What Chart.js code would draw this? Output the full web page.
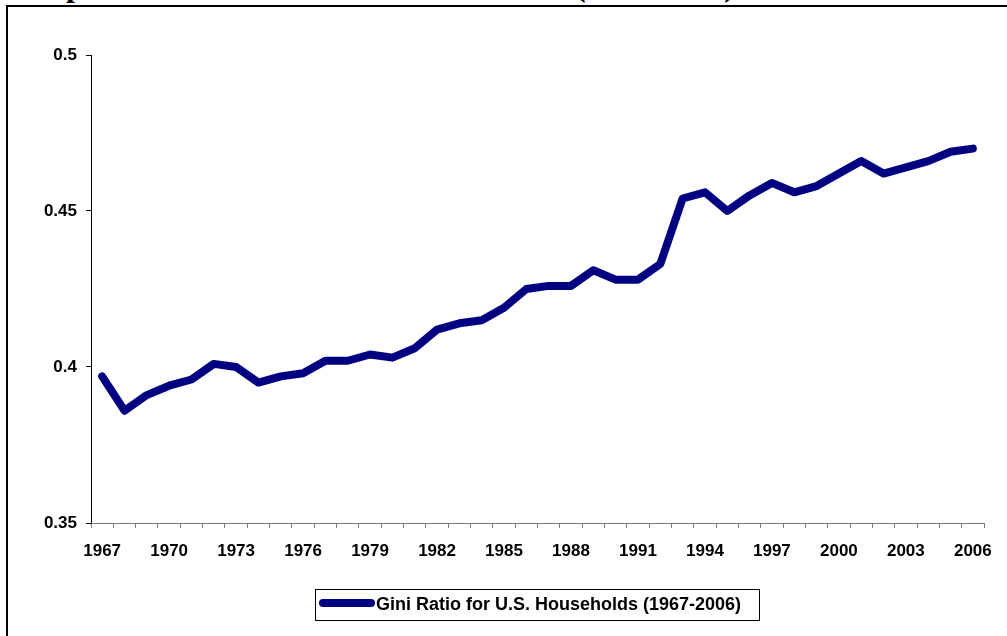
<!DOCTYPE html>
<html lang="en">
<head>
    <meta charset="UTF-8">
    <title>Gini Ratio for U.S. Households (1967-2006)</title>
    <script src="https://cdn.jsdelivr.net/npm/chart.js"></script>
    <style>
        body {
            margin: 0;
            background: #ffffff;
            overflow: hidden;
            font-family: "Liberation Sans", Arial, sans-serif;
        }
        .frame {
            position: absolute;
            left: 6px;
            top: 5px;
            width: 1100px;
            height: 700px;
            border-top: 2px solid #000;
            border-left: 2px solid #000;
        }
        .title {
            position: absolute;
            left: 11px;
            top: -31px;
            font: bold 32px/32px "Liberation Serif", "Times New Roman", serif;
            white-space: nowrap;
            color: #000;
        }
        .chart-box {
            position: absolute;
            left: 0;
            top: 0;
            width: 1007px;
            height: 636px;
        }
    </style>
</head>
<body>
    <div class="frame"></div>
    <div class="title">Graph 1: Gini Ratio for U.S. Households (1967-2006)</div>
    <div class="chart-box"><canvas id="giniChart"></canvas></div>

    <script>
        // Data
        const years = ['1967', '1968', '1969', '1970', '1971', '1972', '1973', '1974', '1975', '1976',
                       '1977', '1978', '1979', '1980', '1981', '1982', '1983', '1984', '1985', '1986',
                       '1987', '1988', '1989', '1990', '1991', '1992', '1993', '1994', '1995', '1996',
                       '1997', '1998', '1999', '2000', '2001', '2002', '2003', '2004', '2005', '2006'];
        const giniRatio = [0.397, 0.386, 0.391, 0.394, 0.396, 0.401, 0.400, 0.395, 0.397, 0.398,
                           0.402, 0.402, 0.404, 0.403, 0.406, 0.412, 0.414, 0.415, 0.419, 0.425,
                           0.426, 0.426, 0.431, 0.428, 0.428, 0.433, 0.454, 0.456, 0.450, 0.455,
                           0.459, 0.456, 0.458, 0.462, 0.466, 0.462, 0.464, 0.466, 0.469, 0.470];
        const yTicks = [0.35, 0.4, 0.45, 0.5];
        const seriesLabel = 'Gini Ratio for U.S. Households (1967-2006)';

        const lineColor = '#000080';

        // legend box drawn by hand, Excel style
        const boxedLegend = {
            id: 'boxedLegend',
            afterDraw(chart) {
                const ctx = chart.ctx;
                ctx.save();
                ctx.strokeStyle = '#000';
                ctx.lineWidth = 1;
                ctx.strokeRect(315.5, 589.5, 444, 31);
                ctx.strokeStyle = lineColor;
                ctx.lineWidth = 8;
                ctx.lineCap = 'round';
                ctx.beginPath();
                ctx.moveTo(323, 603);
                ctx.lineTo(371, 603);
                ctx.stroke();
                ctx.fillStyle = '#000';
                ctx.font = 'bold 18px "Liberation Sans", Arial, sans-serif';
                ctx.textAlign = 'left';
                ctx.textBaseline = 'middle';
                ctx.fillText(seriesLabel, 376, 605);
                ctx.restore();
            }
        };

        const ctx = document.getElementById('giniChart').getContext('2d');
        new Chart(ctx, {
            type: 'line',
            data: {
                labels: years,
                datasets: [{
                    label: seriesLabel,
                    data: giniRatio,
                    borderColor: lineColor,
                    backgroundColor: lineColor,
                    borderWidth: 8,
                    borderCapStyle: 'round',
                    borderJoinStyle: 'round',
                    pointRadius: 0,
                    tension: 0,
                    fill: false
                }]
            },
            options: {
                responsive: true,
                maintainAspectRatio: false,
                animation: false,
                layout: {
                    padding: { top: 55, right: 23, bottom: 0, left: 0 }
                },
                plugins: {
                    legend: { display: false },
                    tooltip: { enabled: false }
                },
                scales: {
                    x: {
                        offset: true,
                        grid: {
                            offset: true,
                            drawOnChartArea: false,
                            drawTicks: true,
                            tickLength: 5,
                            color: '#777'
                        },
                        border: { display: true, color: '#777', width: 1 },
                        ticks: {
                            autoSkip: false,
                            maxRotation: 0,
                            padding: 13,
                            color: '#000',
                            font: { family: '"Liberation Sans", Arial, sans-serif', size: 17, weight: 'bold' },
                            callback: function(value, index) {
                                return index % 3 === 0 ? years[index] : '';
                            }
                        },
                        afterFit: function(scale) {
                            scale.height = 113;
                        }
                    },
                    y: {
                        min: 0.35,
                        max: 0.5,
                        grid: {
                            drawOnChartArea: false,
                            drawTicks: true,
                            tickLength: 5,
                            color: '#000'
                        },
                        border: { display: true, color: '#000', width: 1 },
                        afterBuildTicks: function(scale) {
                            scale.ticks = yTicks.map(v => ({ value: v }));
                        },
                        ticks: {
                            padding: 9,
                            color: '#000',
                            font: { family: '"Liberation Sans", Arial, sans-serif', size: 17, weight: 'bold' },
                            callback: function(value) {
                                return String(+value.toFixed(2));
                            }
                        },
                        afterFit: function(scale) {
                            scale.width = 91;
                        }
                    }
                }
            },
            plugins: [boxedLegend]
        });
    </script>
</body>
</html>
